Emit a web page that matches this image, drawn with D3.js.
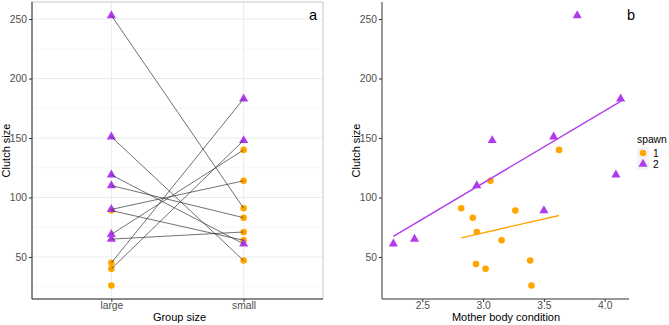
<!DOCTYPE html>
<html>
<head>
<meta charset="utf-8">
<script src="https://cdn.jsdelivr.net/npm/d3@7"></script>
<style>
  body { margin: 0; background: #fff; }
  svg { font-family: "Liberation Sans", Arial, sans-serif; display: block; }
  .tick text { fill: #4d4d4d; font-size: 10.3px; }
</style>
</head>
<body>
<svg id="chart" width="669" height="325"></svg>
<script>
// panel a: clutch size by group size
const groupCats = ['large', 'small'];
const largeSpawn1 = [89, 45, 40, 26];
const largeSpawn2 = [253, 151, 119, 110, 90, 69, 65];
const smallSpawn1 = [140, 114, 91, 83, 71, 64, 47];
const smallSpawn2 = [183, 148, 61];
// same female, large group -> small group
const pairLarge = [253, 151, 119, 110, 90, 89, 69, 65, 45, 40];
const pairSmall = [91, 47, 61, 83, 114, 64, 140, 71, 183, 148];

// panel b: clutch size by mother body condition
const condSpawn1 = [2.82, 2.915, 2.948, 3.061, 3.265, 3.152, 3.625, 2.942, 3.02, 3.387, 3.398];
const clutchSpawn1 = [91, 83, 71, 114, 89, 64, 140, 44, 40, 47, 26];
const condSpawn2 = [2.262, 2.436, 2.948, 3.075, 3.5, 3.58, 3.774, 4.131, 4.092];
const clutchSpawn2 = [61, 65, 110, 148, 89, 151, 253, 183, 119];

const yTicks = [50, 100, 150, 200, 250];
const xTicksB = [2.5, 3.0, 3.5, 4.0];
const spawnLevels = ['1', '2'];

const orange = '#ffa500', purple = '#b03bee';
const colour = { '1': orange, '2': purple };

const svg = d3.select('#chart');

const tri = d3.symbol().type(d3.symbolTriangle).size(36);
const circ = d3.symbol().type(d3.symbolCircle).size(34);
const shape = (s) => (s === '1' ? circ() : tri());

// shared y scale (5% expansion like ggplot)
const allY = largeSpawn1.concat(largeSpawn2, smallSpawn1, smallSpawn2);
const [yMin, yMax] = d3.extent(allY);
const yPad = (yMax - yMin) * 0.05;
const yTop = 2, yBottom = 299;
const y = d3.scaleLinear().domain([yMin - yPad, yMax + yPad]).range([yBottom, yTop]);

// ---------- panel a ----------
const aLeft = 32, aRight = 323;
const xa = d3.scalePoint().domain(groupCats).range([aLeft, aRight]).padding(0.6);

const ga = svg.append('g');

// grid
const minor = d3.range(25, 260, 50);
ga.selectAll('.minor').data(minor).join('line')
    .attr('x1', aLeft).attr('x2', aRight)
    .attr('y1', (d) => y(d)).attr('y2', (d) => y(d))
    .attr('stroke', '#f2f2f2').attr('stroke-width', 0.6);
ga.selectAll('.major').data(yTicks).join('line')
    .attr('x1', aLeft).attr('x2', aRight)
    .attr('y1', (d) => y(d)).attr('y2', (d) => y(d))
    .attr('stroke', '#ebebeb').attr('stroke-width', 1);
ga.selectAll('.vmajor').data(groupCats).join('line')
    .attr('x1', (d) => xa(d)).attr('x2', (d) => xa(d))
    .attr('y1', yTop).attr('y2', yBottom)
    .attr('stroke', '#ebebeb').attr('stroke-width', 1);

// panel border
ga.append('rect')
    .attr('x', aLeft).attr('y', yTop)
    .attr('width', aRight - aLeft).attr('height', yBottom - yTop)
    .attr('fill', 'none').attr('stroke', '#c6c6c6').attr('stroke-width', 1);

// points
const aPoints = [];
largeSpawn1.forEach((v) => aPoints.push({ g: 'large', v, s: '1' }));
largeSpawn2.forEach((v) => aPoints.push({ g: 'large', v, s: '2' }));
smallSpawn1.forEach((v) => aPoints.push({ g: 'small', v, s: '1' }));
smallSpawn2.forEach((v) => aPoints.push({ g: 'small', v, s: '2' }));

ga.selectAll('.pt').data(aPoints).join('path')
    .attr('d', (d) => shape(d.s))
    .attr('transform', (d) => `translate(${xa(d.g)},${y(d.v)})`)
    .attr('fill', (d) => colour[d.s]);

// connecting lines drawn on top
ga.selectAll('.pair').data(d3.range(pairLarge.length)).join('line')
    .attr('x1', xa('large')).attr('y1', (i) => y(pairLarge[i]))
    .attr('x2', xa('small')).attr('y2', (i) => y(pairSmall[i]))
    .attr('stroke', '#333').attr('stroke-width', 0.7);

// axes
const yAxisA = ga.append('g').attr('transform', `translate(${aLeft},0)`)
    .call(d3.axisLeft(y).tickValues(yTicks).tickSize(3).tickPadding(2));
const xAxisA = ga.append('g').attr('transform', `translate(0,${yBottom})`)
    .call(d3.axisBottom(xa).tickSize(3));
[yAxisA, xAxisA].forEach((ax) => {
    ax.select('.domain').attr('stroke', '#333').attr('stroke-width', 1);
    ax.selectAll('.tick line').attr('stroke', '#333');
});
xAxisA.selectAll('.tick text').attr('y', 2.5);
xAxisA.select('.domain').attr('d', `M${aLeft},0H${aRight}`);
yAxisA.select('.domain').attr('d', `M0,${yBottom}V${yTop}`);

ga.append('text')
    .attr('transform', `translate(10,${(yTop + yBottom) / 2}) rotate(-90)`)
    .attr('text-anchor', 'middle').attr('font-size', 11).text('Clutch size');
ga.append('text')
    .attr('x', (aLeft + aRight) / 2 + 2).attr('y', 320.5)
    .attr('text-anchor', 'middle').attr('font-size', 11).text('Group size');
ga.append('text')
    .attr('x', 313).attr('y', 20)
    .attr('text-anchor', 'middle').attr('font-size', 14.5).text('a');

// ---------- panel b ----------
const bLeft = 382;
const allX = condSpawn1.concat(condSpawn2);
const [xMin, xMax] = d3.extent(allX);
const xPad = (xMax - xMin) * 0.05;
const xScaleB = d3.scaleLinear().domain([xMin - xPad, xMax + xPad]).range([bLeft, 632]);

const gb = svg.append('g');

// least-squares fit per spawn (geom_smooth method = lm)
function fit(xs, ys) {
    const mx = d3.mean(xs), my = d3.mean(ys);
    const sxy = d3.sum(xs, (x, i) => (x - mx) * (ys[i] - my));
    const sxx = d3.sum(xs, (x) => (x - mx) ** 2);
    const b = sxy / sxx, a = my - b * mx;
    const [x0, x1] = d3.extent(xs);
    return [[x0, a + b * x0], [x1, a + b * x1]];
}
const fits = [
    { s: '1', pts: fit(condSpawn1, clutchSpawn1) },
    { s: '2', pts: fit(condSpawn2, clutchSpawn2) },
];

const bPoints = [];
condSpawn1.forEach((x, i) => bPoints.push({ x, v: clutchSpawn1[i], s: '1' }));
condSpawn2.forEach((x, i) => bPoints.push({ x, v: clutchSpawn2[i], s: '2' }));

gb.selectAll('.pt').data(bPoints).join('path')
    .attr('d', (d) => shape(d.s))
    .attr('transform', (d) => `translate(${xScaleB(d.x)},${y(d.v)})`)
    .attr('fill', (d) => colour[d.s]);

const line = d3.line().x((d) => xScaleB(d[0])).y((d) => y(d[1]));
gb.selectAll('.fit').data(fits).join('path')
    .attr('d', (d) => line(d.pts))
    .attr('fill', 'none')
    .attr('stroke', (d) => colour[d.s])
    .attr('stroke-width', 1.4);

const yAxisB = gb.append('g').attr('transform', `translate(${bLeft},0)`)
    .call(d3.axisLeft(y).tickValues(yTicks).tickSize(3).tickPadding(2));
const xAxisB = gb.append('g').attr('transform', `translate(0,${yBottom})`)
    .call(d3.axisBottom(xScaleB).tickValues(xTicksB).tickFormat(d3.format('.1f')).tickSize(3));
[yAxisB, xAxisB].forEach((ax) => {
    ax.select('.domain').attr('stroke', '#333').attr('stroke-width', 1);
    ax.selectAll('.tick line').attr('stroke', '#333');
});
xAxisB.selectAll('.tick text').attr('y', 2.5);
xAxisB.select('.domain').attr('d', `M${bLeft},0H629`);
yAxisB.select('.domain').attr('d', `M0,${yBottom}V${yTop}`);

gb.append('text')
    .attr('transform', `translate(360,${(yTop + yBottom) / 2}) rotate(-90)`)
    .attr('text-anchor', 'middle').attr('font-size', 11).text('Clutch size');
gb.append('text')
    .attr('x', 506).attr('y', 321)
    .attr('text-anchor', 'middle').attr('font-size', 11).text('Mother body condition');
gb.append('text')
    .attr('x', 631).attr('y', 20)
    .attr('text-anchor', 'middle').attr('font-size', 14.5).text('b');

// legend
const lg = gb.append('g').attr('transform', 'translate(637,0)');
lg.append('text').attr('x', 0).attr('y', 143).attr('font-size', 10.3).text('spawn');
const keys = lg.selectAll('.key').data(spawnLevels).join('g')
    .attr('transform', (d, i) => `translate(0,${147.5 + i * 11})`);
keys.append('rect').attr('width', 12).attr('height', 11).attr('fill', '#f2f2f2');
keys.append('path')
    .attr('d', (d) => shape(d))
    .attr('transform', 'translate(6,5.5)')
    .attr('fill', (d) => colour[d]);
keys.append('text')
    .attr('x', 16).attr('y', 9.5).attr('font-size', 10.3).text((d) => d);
</script>
</body>
</html>
